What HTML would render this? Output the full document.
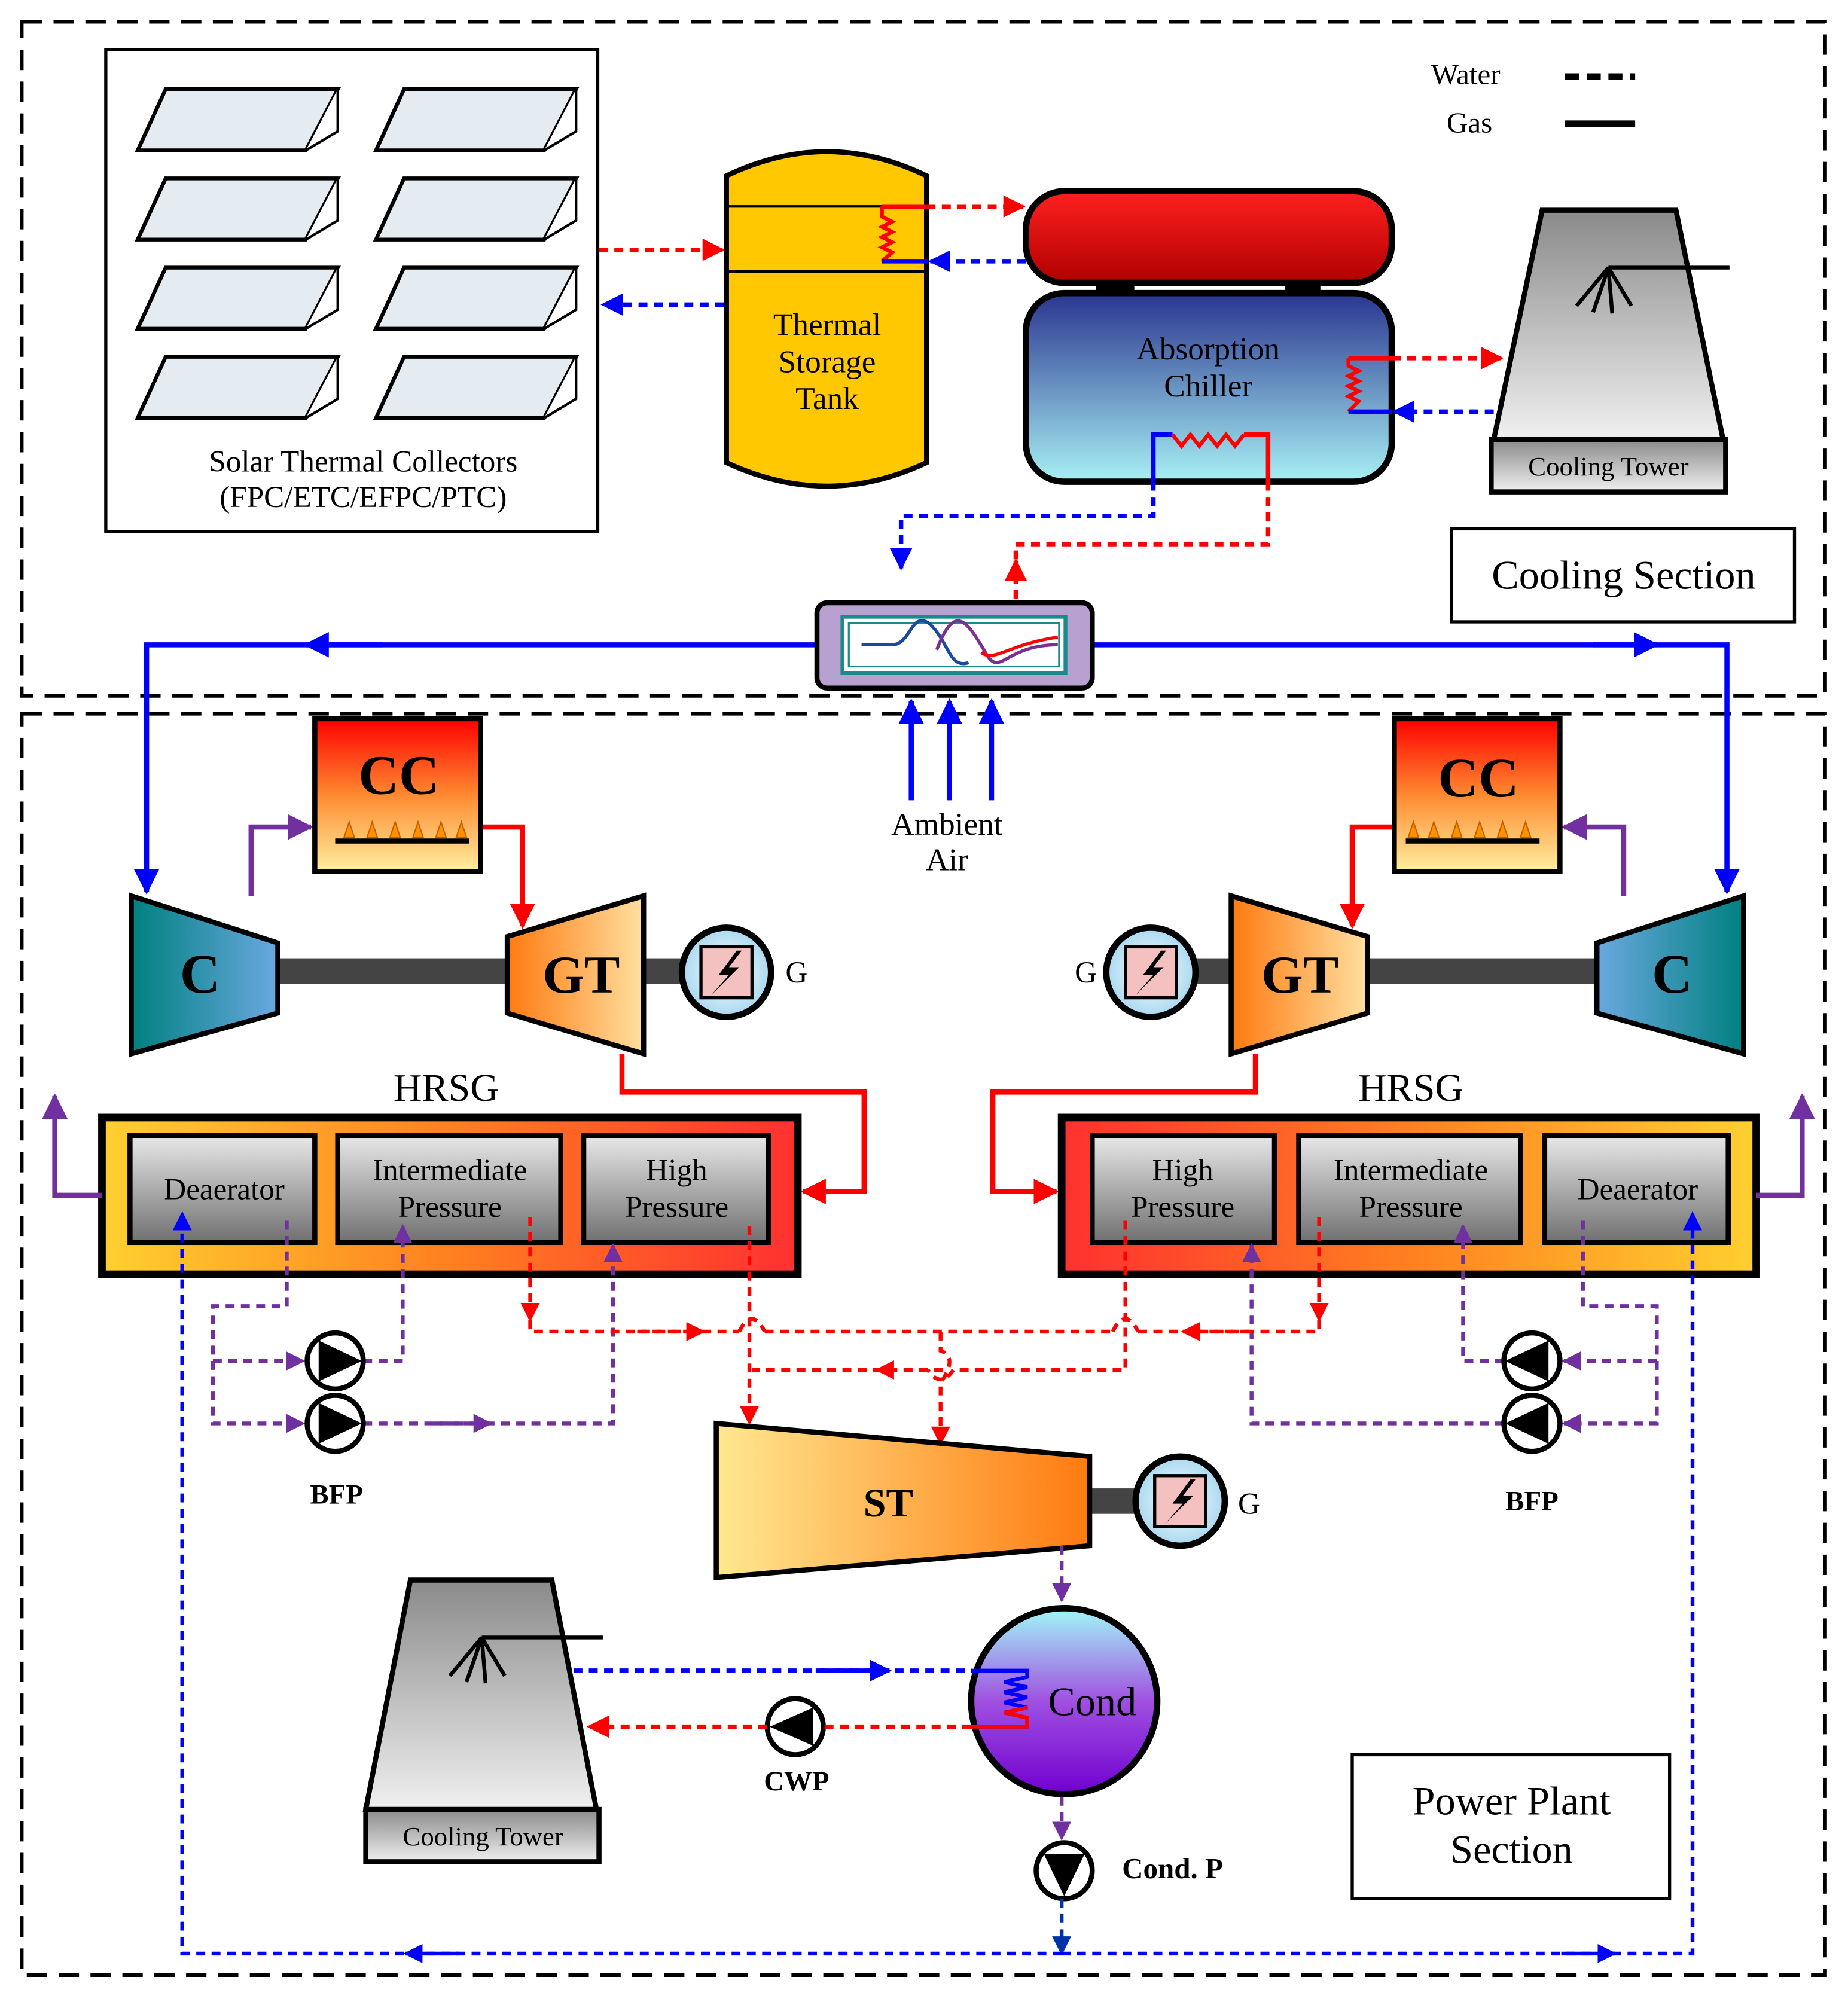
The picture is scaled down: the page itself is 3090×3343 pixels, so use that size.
<!DOCTYPE html>
<html><head><meta charset="utf-8"><style>html,body{margin:0;padding:0;background:#fff}svg{display:block}text{font-family:"Liberation Serif",serif;fill:#000}</style></head><body>
<svg width="3090" height="3343" viewBox="0 0 1450 1568.7" xmlns="http://www.w3.org/2000/svg">
<defs>
<marker id="ab" viewBox="0 0 10 10" refX="9" refY="5" markerWidth="5" markerHeight="5" orient="auto"><path d="M0,0L10,5L0,10z" fill="#0000ff"/></marker>
<marker id="ar" viewBox="0 0 10 10" refX="9" refY="5" markerWidth="5" markerHeight="5" orient="auto"><path d="M0,0L10,5L0,10z" fill="#ff0000"/></marker>
<marker id="ap" viewBox="0 0 10 10" refX="9" refY="5" markerWidth="5" markerHeight="5" orient="auto"><path d="M0,0L10,5L0,10z" fill="#7030a0"/></marker>
<marker id="adb" viewBox="0 0 10 10" refX="9" refY="5" markerWidth="5" markerHeight="5" orient="auto"><path d="M0,0L10,5L0,10z" fill="#0033aa"/></marker>
<linearGradient id="gRed" x1="0" y1="0" x2="0" y2="1"><stop offset="0" stop-color="#ff2020"/><stop offset="1" stop-color="#b00000"/></linearGradient>
<linearGradient id="gChil" x1="0" y1="0" x2="0" y2="1"><stop offset="0" stop-color="#2a3590"/><stop offset="1" stop-color="#a8f0f4"/></linearGradient>
<linearGradient id="gGray" x1="0" y1="0" x2="0" y2="1"><stop offset="0" stop-color="#8a8a8a"/><stop offset="1" stop-color="#f0f0f0"/></linearGradient>
<linearGradient id="gBox" x1="0" y1="0" x2="0" y2="1"><stop offset="0" stop-color="#e8e8e8"/><stop offset="1" stop-color="#707070"/></linearGradient>
<linearGradient id="gCC" x1="0" y1="0" x2="0" y2="1"><stop offset="0" stop-color="#ff0000"/><stop offset="0.5" stop-color="#ff8a30"/><stop offset="1" stop-color="#fff0a0"/></linearGradient>
<linearGradient id="gC" x1="0" y1="0" x2="1" y2="0"><stop offset="0" stop-color="#008080"/><stop offset="1" stop-color="#6aa8e0"/></linearGradient>
<linearGradient id="gGT" x1="0" y1="0" x2="1" y2="0"><stop offset="0" stop-color="#ff7a10"/><stop offset="1" stop-color="#ffe0a0"/></linearGradient>
<linearGradient id="gST" x1="0" y1="0" x2="1" y2="0"><stop offset="0" stop-color="#ffe890"/><stop offset="1" stop-color="#ff7a10"/></linearGradient>
<linearGradient id="gH1" x1="0" y1="0" x2="1" y2="0"><stop offset="0" stop-color="#ffd030"/><stop offset="0.5" stop-color="#ff8020"/><stop offset="1" stop-color="#ff3030"/></linearGradient>
<linearGradient id="gH2" x1="0" y1="0" x2="1" y2="0"><stop offset="0" stop-color="#ff3030"/><stop offset="0.5" stop-color="#ff8020"/><stop offset="1" stop-color="#ffd030"/></linearGradient>
<linearGradient id="gCond" x1="0" y1="0" x2="0" y2="1"><stop offset="0" stop-color="#a0f8f8"/><stop offset="0.5" stop-color="#a050e0"/><stop offset="1" stop-color="#7000d0"/></linearGradient>
<radialGradient id="gGen"><stop offset="0" stop-color="#ffffff"/><stop offset="1" stop-color="#a8d8f0"/></radialGradient>
<g id="coll"><path d="M130,70L265,70L240,118L108,118Z" fill="#e4ecf2" stroke="#000" stroke-width="3"/><path d="M265,70L265,103L240,118" fill="#fff" stroke="#000" stroke-width="2"/></g>
<g id="gen"><circle cx="0" cy="0" r="35" fill="url(#gGen)" stroke="#000" stroke-width="5"/><rect x="-20" y="-20" width="40" height="40" fill="#f4c0c0" stroke="#000" stroke-width="2.5"/><path d="M8,-17L-6,2L2,2L-12,18L10,-4L2,-4L12,-17Z" fill="#000"/></g>
<g id="fan"><line x1="0" y1="0" x2="95" y2="0" stroke="#000" stroke-width="3"/><path d="M0,0L-25,30M0,0L-12,35M0,0L3,36M0,0L18,30" stroke="#000" stroke-width="3" fill="none"/></g>
</defs>
<rect width="1450" height="1568.7" fill="#fff"/>
<rect x="17" y="17" width="1415" height="529" fill="none" stroke="#000" stroke-width="3" stroke-dasharray="16 9"/>
<rect x="17" y="560" width="1415" height="990" fill="none" stroke="#000" stroke-width="3" stroke-dasharray="16 9"/>
<rect x="83" y="39" width="386" height="378" fill="#fff" stroke="#000" stroke-width="2.5"/>
<use href="#coll"/><use href="#coll" x="187"/>
<use href="#coll" y="70"/><use href="#coll" x="187" y="70"/>
<use href="#coll" y="140"/><use href="#coll" x="187" y="140"/>
<use href="#coll" y="210"/><use href="#coll" x="187" y="210"/>
<text x="285" y="370" font-size="24" text-anchor="middle">Solar Thermal Collectors</text>
<text x="285" y="398" font-size="24" text-anchor="middle">(FPC/ETC/EFPC/PTC)</text>
<line x1="470" y1="196" x2="567" y2="196" stroke="#f00" stroke-width="3.5" stroke-dasharray="7 5" marker-end="url(#ar)"/>
<line x1="568" y1="239" x2="473" y2="239" stroke="#00f" stroke-width="3.5" stroke-dasharray="7 5" marker-end="url(#ab)"/>
<path d="M570,138Q649,100 727,138L727,363Q649,400 570,363Z" fill="#ffc800" stroke="#000" stroke-width="4"/>
<line x1="570" y1="162" x2="727" y2="162" stroke="#000" stroke-width="2"/>
<line x1="570" y1="213" x2="727" y2="213" stroke="#000" stroke-width="2"/>
<text x="649" y="263" font-size="25" text-anchor="middle">Thermal</text>
<text x="649" y="292" font-size="25" text-anchor="middle">Storage</text>
<text x="649" y="321" font-size="25" text-anchor="middle">Tank</text>
<path d="M692,162L692,170L700,174L692,178L700,182L692,186L700,190L692,194L700,198L692,205" stroke="#f00" stroke-width="3" fill="none"/>
<path d="M692,162L727,162" stroke="#f00" stroke-width="3.5"/>
<line x1="727" y1="162" x2="803" y2="162" stroke="#f00" stroke-width="3.5" stroke-dasharray="7 5" marker-end="url(#ar)"/>
<path d="M692,205L728,205" stroke="#00f" stroke-width="3.5"/>
<line x1="805" y1="205" x2="730" y2="205" stroke="#00f" stroke-width="3.5" stroke-dasharray="7 5" marker-end="url(#ab)"/>
<rect x="860" y="218" width="30" height="16" fill="#000"/><rect x="1008" y="218" width="28" height="16" fill="#000"/>
<rect x="805" y="150" width="287" height="72" rx="30" fill="url(#gRed)" stroke="#000" stroke-width="5"/>
<rect x="805" y="230" width="287" height="148" rx="30" fill="url(#gChil)" stroke="#000" stroke-width="5"/>
<text x="948" y="282" font-size="25" text-anchor="middle">Absorption</text>
<text x="948" y="311" font-size="25" text-anchor="middle">Chiller</text>
<path d="M1058,281L1058,287L1066,291L1058,295L1066,299L1058,303L1066,307L1058,311L1066,315L1058,323" stroke="#f00" stroke-width="3" fill="none"/>
<path d="M1058,281L1092,281" stroke="#f00" stroke-width="3.5"/>
<line x1="1092" y1="281" x2="1178" y2="281" stroke="#f00" stroke-width="3.5" stroke-dasharray="7 5" marker-end="url(#ar)"/>
<path d="M1058,323L1092,323" stroke="#00f" stroke-width="3.5"/>
<line x1="1172" y1="323" x2="1094" y2="323" stroke="#00f" stroke-width="3.5" stroke-dasharray="7 5" marker-end="url(#ab)"/>
<path d="M905,378L905,341L920,341" stroke="#00f" stroke-width="3.5" fill="none"/>
<path d="M920,341L927,350L934,341L941,350L948,341L955,350L962,341L969,350L976,341" stroke="#f00" stroke-width="3" fill="none"/>
<path d="M976,341L995,341L995,378" stroke="#f00" stroke-width="3.5" fill="none"/>
<path d="M905,378L905,405L707,405L707,446" stroke="#00f" stroke-width="3.5" stroke-dasharray="7 5" fill="none" marker-end="url(#ab)"/>
<path d="M995,378L995,427L797,427L797,446" stroke="#f00" stroke-width="3.5" stroke-dasharray="7 5" fill="none"/>
<path d="M797,470L797,440" stroke="#f00" stroke-width="3.5" stroke-dasharray="7 5" marker-end="url(#ar)"/>
<path d="M1210,165L1315,165L1352,345L1172,345Z" fill="url(#gGray)" stroke="#000" stroke-width="4"/>
<rect x="1170" y="345" width="184" height="41" fill="url(#gGray)" stroke="#000" stroke-width="4"/>
<text x="1262" y="373" font-size="21" text-anchor="middle">Cooling Tower</text>
<use href="#fan" x="1262" y="210"/>
<text x="1150" y="66" font-size="23" text-anchor="middle">Water</text>
<line x1="1228" y1="60" x2="1283" y2="60" stroke="#000" stroke-width="5" stroke-dasharray="11 6"/>
<text x="1153" y="104" font-size="23" text-anchor="middle">Gas</text>
<line x1="1228" y1="97" x2="1283" y2="97" stroke="#000" stroke-width="5"/>
<rect x="1139" y="415" width="269" height="73" fill="#fff" stroke="#000" stroke-width="2.5"/>
<text x="1274" y="462" font-size="32" text-anchor="middle">Cooling Section</text>
<path d="M641,506L115,506L115,700" stroke="#00f" stroke-width="4" fill="none" marker-end="url(#ab)"/>
<path d="M300,506L240,506" stroke="#00f" stroke-width="4" marker-end="url(#ab)"/>
<path d="M857,506L1355,506L1355,700" stroke="#00f" stroke-width="4" fill="none" marker-end="url(#ab)"/>
<path d="M1250,506L1300,506" stroke="#00f" stroke-width="4" marker-end="url(#ab)"/>
<rect x="641" y="473" width="216" height="67" rx="8" fill="#b8a0d0" stroke="#000" stroke-width="4"/>
<rect x="661" y="484" width="175" height="44" fill="#fff" stroke="#1a8a8a" stroke-width="3"/>
<rect x="666" y="489" width="165" height="34" fill="#fff" stroke="#1a8a8a" stroke-width="1.5"/>
<path d="M676,506L700,506C715,506 715,478 730,490C745,505 745,525 760,520" stroke="#1a4aa0" stroke-width="2.5" fill="none"/>
<path d="M735,510C750,470 760,490 775,515C785,530 790,506 830,506" stroke="#7a3090" stroke-width="2.5" fill="none"/>
<path d="M770,512C780,520 790,506 830,500" stroke="#f00" stroke-width="2.5" fill="none"/>
<line x1="715" y1="628" x2="715" y2="550" stroke="#00f" stroke-width="4" marker-end="url(#ab)"/>
<line x1="745" y1="628" x2="745" y2="550" stroke="#00f" stroke-width="4" marker-end="url(#ab)"/>
<line x1="778" y1="628" x2="778" y2="550" stroke="#00f" stroke-width="4" marker-end="url(#ab)"/>
<text x="743" y="655" font-size="25" text-anchor="middle">Ambient</text>
<text x="743" y="683" font-size="25" text-anchor="middle">Air</text>
<g id="train">
<path d="M197,703L197,649L244,649" stroke="#7030a0" stroke-width="4" fill="none" marker-end="url(#ap)"/>
<path d="M377,649L410,649L410,727" stroke="#f00" stroke-width="4" fill="none" marker-end="url(#ar)"/>
<rect x="218" y="752" width="182" height="20" fill="#444"/>
<rect x="505" y="752" width="35" height="20" fill="#444"/>
<path d="M103,703L218,740L218,795L103,827Z" fill="url(#gC)" stroke="#000" stroke-width="4"/>
<rect x="247" y="564" width="130" height="120" fill="url(#gCC)" stroke="#000" stroke-width="4"/>
<line x1="263" y1="660" x2="368" y2="660" stroke="#000" stroke-width="4"/>
<path d="M270,657l4,-12l4,12zM288,657l4,-12l4,12zM306,657l4,-12l4,12zM324,657l4,-12l4,12zM342,657l4,-12l4,12zM358,657l4,-12l4,12z" fill="#ff9000" stroke="#c06000"/>
</g>
<path d="M488,827L488,857L678,857L678,935L630,935" stroke="#f00" stroke-width="4" fill="none" marker-end="url(#ar)"/>
<path d="M985,827L985,857L779,857L779,935L829,935" stroke="#f00" stroke-width="4" fill="none" marker-end="url(#ar)"/>
<path d="M398,735L505,703L505,827L398,795Z" fill="url(#gGT)" stroke="#000" stroke-width="4"/>
<use href="#gen" x="570" y="763"/>
<use href="#train" transform="translate(1471,0) scale(-1,1)"/>
<path d="M1073,735L966,703L966,827L1073,795Z" fill="url(#gGT)" stroke="#000" stroke-width="4"/>
<use href="#gen" x="903" y="763"/>
<text x="157" y="779" font-size="44" font-weight="bold" text-anchor="middle">C</text>
<text x="1312" y="779" font-size="44" font-weight="bold" text-anchor="middle">C</text>
<text x="456" y="779" font-size="42" font-weight="bold" text-anchor="middle">GT</text>
<text x="1020" y="779" font-size="42" font-weight="bold" text-anchor="middle">GT</text>
<text x="313" y="623" font-size="44" font-weight="bold" text-anchor="middle">CC</text>
<text x="1160" y="625" font-size="44" font-weight="bold" text-anchor="middle">CC</text>
<text x="625" y="771" font-size="24" text-anchor="middle">G</text>
<text x="852" y="771" font-size="24" text-anchor="middle">G</text>
<text x="350" y="864" font-size="31" text-anchor="middle">HRSG</text>
<text x="1107" y="864" font-size="31" text-anchor="middle">HRSG</text>
<rect x="80" y="877" width="546" height="123" fill="url(#gH1)" stroke="#000" stroke-width="6"/>
<rect x="833" y="877" width="545" height="123" fill="url(#gH2)" stroke="#000" stroke-width="6"/>
<g fill="url(#gBox)" stroke="#000" stroke-width="4">
<rect x="102" y="891" width="145" height="84"/><rect x="265" y="891" width="175" height="84"/><rect x="458" y="891" width="145" height="84"/>
<rect x="857" y="891" width="143" height="84"/><rect x="1019" y="891" width="174" height="84"/><rect x="1212" y="891" width="144" height="84"/>
</g>
<g font-size="24" text-anchor="middle">
<text x="176" y="941">Deaerator</text>
<text x="353" y="926">Intermediate</text><text x="353" y="955">Pressure</text>
<text x="531" y="926">High</text><text x="531" y="955">Pressure</text>
<text x="928" y="926">High</text><text x="928" y="955">Pressure</text>
<text x="1107" y="926">Intermediate</text><text x="1107" y="955">Pressure</text>
<text x="1285" y="941">Deaerator</text>
</g>
<path d="M80,938L43,938L43,860" stroke="#7030a0" stroke-width="4" fill="none" marker-end="url(#ap)"/>
<path d="M1378,938L1414,938L1414,860" stroke="#7030a0" stroke-width="4" fill="none" marker-end="url(#ap)"/>
<g fill="none" stroke-width="3" stroke-dasharray="7 5">
<path d="M225,958L225,1025L167,1025L167,1117L238,1117" stroke="#7030a0" marker-end="url(#ap)"/>
<path d="M167,1068L238,1068" stroke="#7030a0" marker-end="url(#ap)"/>
<path d="M285,1068L316,1068L316,962" stroke="#7030a0" marker-end="url(#ap)"/>
<path d="M285,1117L481,1117L481,977" stroke="#7030a0" marker-end="url(#ap)"/>
<path d="M340,1117L385,1117" stroke="#7030a0" marker-end="url(#ap)"/>
<path d="M1242,958L1242,1025L1300,1025L1300,1117L1227,1117" stroke="#7030a0" marker-end="url(#ap)"/>
<path d="M1300,1068L1227,1068" stroke="#7030a0" marker-end="url(#ap)"/>
<path d="M1180,1068L1148,1068L1148,962" stroke="#7030a0" marker-end="url(#ap)"/>
<path d="M1180,1117L982,1117L982,977" stroke="#7030a0" marker-end="url(#ap)"/>
<path d="M416,955L416,1036" stroke="#f00" marker-end="url(#ar)"/>
<path d="M416,1036L416,1045L580,1045M600,1045L873,1045M893,1045L1035,1045L1035,1036" stroke="#f00"/>
<path d="M580,1045Q590,1025 600,1045M873,1045Q883,1025 893,1045" stroke="#f00"/>
<path d="M500,1045L552,1045" stroke="#f00" marker-end="url(#ar)"/>
<path d="M1035,955L1035,1036" stroke="#f00" marker-end="url(#ar)"/>
<path d="M980,1045L928,1045" stroke="#f00" marker-end="url(#ar)"/>
<path d="M588,962L588,1117" stroke="#f00" marker-end="url(#ar)"/>
<path d="M883,958L883,1075L748,1075M728,1075L590,1075" stroke="#f00"/>
<path d="M748,1075Q738,1090 728,1075" stroke="#f00"/>
<path d="M740,1075L688,1075" stroke="#f00" marker-end="url(#ar)"/>
<path d="M738,1045L738,1060Q752,1065 738,1085L738,1133" stroke="#f00" marker-end="url(#ar)"/>
</g>
<g stroke="#000" stroke-width="4" fill="#fff">
<circle cx="263" cy="1068" r="22"/><circle cx="263" cy="1117" r="22"/>
<circle cx="1202" cy="1068" r="22"/><circle cx="1202" cy="1117" r="22"/>
<circle cx="624" cy="1355" r="22"/><circle cx="835" cy="1468" r="22"/>
</g>
<g fill="#000">
<path d="M250,1052L284,1068L250,1084Z"/><path d="M250,1101L284,1117L250,1133Z"/>
<path d="M1215,1052L1181,1068L1215,1084Z"/><path d="M1215,1101L1181,1117L1215,1133Z"/>
<path d="M638,1340L604,1355L638,1370Z"/><path d="M819,1455L835,1488L851,1455Z"/>
</g>
<text x="264" y="1180" font-size="22" font-weight="bold" text-anchor="middle">BFP</text>
<text x="1202" y="1185" font-size="22" font-weight="bold" text-anchor="middle">BFP</text>
<rect x="855" y="1168" width="37" height="20" fill="#444"/>
<path d="M562,1117L855,1143L855,1213L562,1238Z" fill="url(#gST)" stroke="#000" stroke-width="4"/>
<text x="697" y="1190" font-size="32" font-weight="bold" text-anchor="middle">ST</text>
<use href="#gen" x="926" y="1178"/>
<text x="980" y="1188" font-size="24" text-anchor="middle">G</text>
<path d="M833,1213L833,1256" stroke="#7030a0" stroke-width="3" stroke-dasharray="7 5" fill="none" marker-end="url(#ap)"/>
<circle cx="835" cy="1335" r="73" fill="url(#gCond)" stroke="#000" stroke-width="5"/>
<text x="857" y="1346" font-size="32" text-anchor="middle">Cond</text>
<path d="M762,1311L806,1311L806,1316L788,1320L806,1324L788,1328L806,1332L788,1336L806,1340L788,1344L806,1348L806,1355L762,1355" stroke="#00f" stroke-width="3" fill="none"/>
<path d="M806,1340L788,1344L806,1348L806,1355L762,1355" stroke="#f00" stroke-width="3" fill="none"/>
<path d="M450,1311L762,1311" stroke="#00f" stroke-width="3.5" stroke-dasharray="7 5"/>
<path d="M640,1311L698,1311" stroke="#00f" stroke-width="3.5" marker-end="url(#ab)"/>
<path d="M762,1355L646,1355M602,1355L462,1355" stroke="#f00" stroke-width="3.5" stroke-dasharray="7 5" marker-end="url(#ar)"/>
<text x="625" y="1405" font-size="22" font-weight="bold" text-anchor="middle">CWP</text>
<path d="M833,1410L833,1443" stroke="#7030a0" stroke-width="3" stroke-dasharray="7 5" marker-end="url(#ap)"/>
<text x="920" y="1474" font-size="23" font-weight="bold" text-anchor="middle">Cond. P</text>
<path d="M833,1490L833,1533" stroke="#0033aa" stroke-width="3" stroke-dasharray="7 5" marker-end="url(#adb)"/>
<path d="M833,1533L143,1533L143,952" stroke="#00f" stroke-width="3" stroke-dasharray="7 5" fill="none" marker-end="url(#ab)"/>
<path d="M833,1533L1328,1533L1328,952" stroke="#00f" stroke-width="3" stroke-dasharray="7 5" fill="none" marker-end="url(#ab)"/>
<path d="M360,1533L318,1533" stroke="#00f" stroke-width="3" marker-end="url(#ab)"/>
<path d="M1225,1533L1267,1533" stroke="#00f" stroke-width="3" marker-end="url(#ab)"/>
<path d="M322,1240L433,1240L468,1420L287,1420Z" fill="url(#gGray)" stroke="#000" stroke-width="4"/>
<rect x="287" y="1420" width="183" height="41" fill="url(#gGray)" stroke="#000" stroke-width="4"/>
<text x="379" y="1448" font-size="21" text-anchor="middle">Cooling Tower</text>
<use href="#fan" x="378" y="1285"/>
<rect x="1061" y="1377" width="249" height="113" fill="#fff" stroke="#000" stroke-width="2.5"/>
<text x="1186" y="1424" font-size="32" text-anchor="middle">Power Plant</text>
<text x="1186" y="1462" font-size="32" text-anchor="middle">Section</text>
</svg>
</body></html>
